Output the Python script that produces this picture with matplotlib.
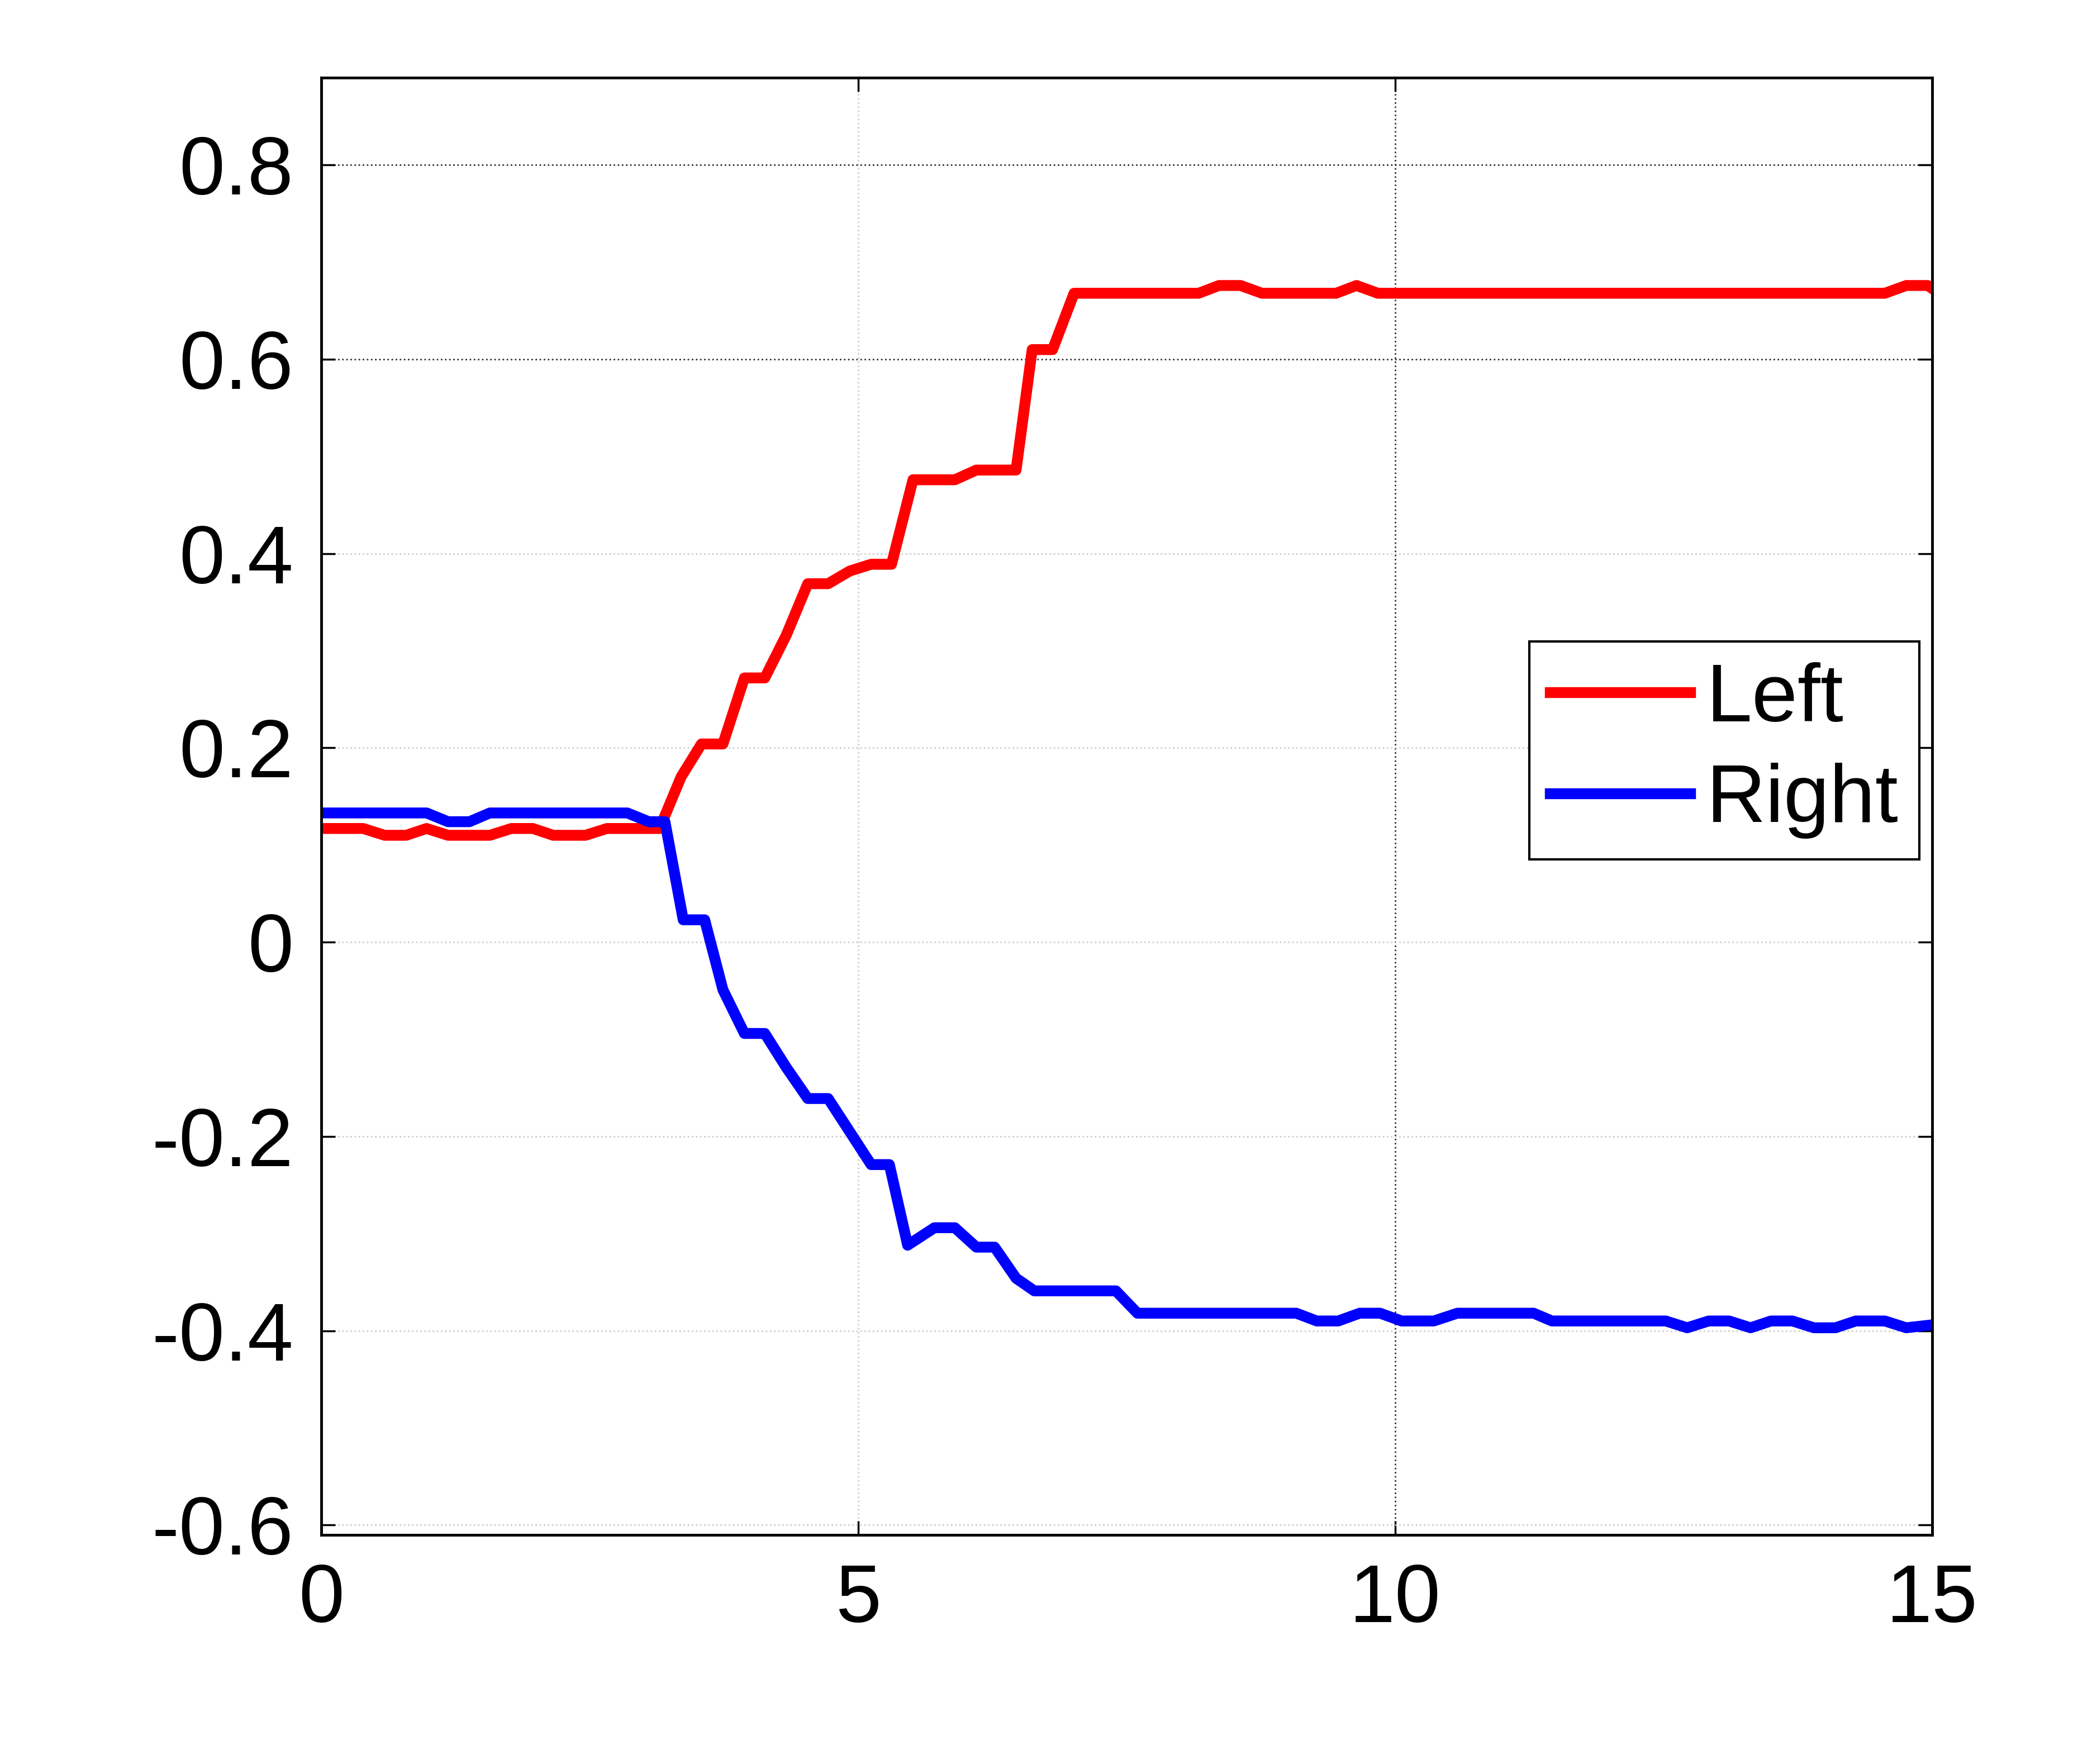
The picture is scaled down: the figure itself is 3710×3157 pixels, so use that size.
import matplotlib
matplotlib.use('Agg')
import matplotlib.pyplot as plt

plt.rcParams['font.family'] = ['Liberation Sans', 'DejaVu Sans']

left_x = [0, 0.39, 0.59, 0.79, 0.98, 1.18, 1.57, 1.77, 1.97, 2.16, 2.46, 2.66, 3.15,
          3.35, 3.54, 3.74, 3.94, 4.13, 4.33, 4.53, 4.72, 4.92, 5.12, 5.31, 5.51,
          5.9, 6.1, 6.47, 6.62, 6.81, 7.01, 8.17, 8.36, 8.56, 8.76, 9.45, 9.64,
          9.84, 14.56, 14.76, 14.96, 15]
left_y = [0.117, 0.117, 0.11, 0.11, 0.117, 0.11, 0.11, 0.117, 0.117, 0.11, 0.11, 0.117,
          0.117, 0.17, 0.204, 0.204, 0.272, 0.272, 0.316, 0.369, 0.369, 0.382, 0.389,
          0.389, 0.476, 0.476, 0.486, 0.486, 0.61, 0.61, 0.668, 0.668, 0.676, 0.676,
          0.668, 0.668, 0.676, 0.668, 0.668, 0.676, 0.676, 0.673]

right_x = [0, 0.98, 1.18, 1.38, 1.57, 2.85, 3.05, 3.2, 3.37, 3.57, 3.74, 3.94, 4.13,
           4.33, 4.53, 4.72, 4.92, 5.12, 5.29, 5.46, 5.71, 5.9, 6.1, 6.27, 6.47, 6.64,
           7.4, 7.6, 9.08, 9.27, 9.47, 9.67, 9.86, 10.06, 10.36, 10.58, 11.29, 11.46,
           12.52, 12.72, 12.92, 13.11, 13.31, 13.5, 13.7, 13.9, 14.1, 14.29, 14.56,
           14.76, 15]
right_y = [0.133, 0.133, 0.124, 0.124, 0.133, 0.133, 0.124, 0.124, 0.023, 0.023, -0.049,
           -0.094, -0.094, -0.129, -0.161, -0.161, -0.195, -0.229, -0.229, -0.312,
           -0.294, -0.294, -0.314, -0.314, -0.346, -0.359, -0.359, -0.382, -0.382,
           -0.39, -0.39, -0.382, -0.382, -0.39, -0.39, -0.382, -0.382, -0.39, -0.39,
           -0.397, -0.39, -0.39, -0.397, -0.39, -0.39, -0.397, -0.397, -0.39, -0.39,
           -0.397, -0.394]

xticks = [0, 5, 10, 15]
yticks = [-0.6, -0.4, -0.2, 0, 0.2, 0.4, 0.6, 0.8]
ytick_labels = ['-0.6', '-0.4', '-0.2', '0', '0.2', '0.4', '0.6', '0.8']

fig = plt.figure(figsize=(37.1, 31.57), dpi=100)
ax = fig.add_axes([0.155, 0.13, 0.777, 0.826])

ax.plot(left_x, left_y, color='#ff0000', linewidth=14, label='Left')
ax.plot(right_x, right_y, color='#0000ff', linewidth=14, label='Right')

ax.set_xlim(0, 15)
ax.set_ylim(-0.61, 0.89)
ax.set_xticks(xticks)
ax.set_yticks(yticks)
ax.set_yticklabels(ytick_labels)
ax.tick_params(direction='in', length=18, width=2.5, labelsize=106, pad=36,
               top=True, right=True)
for s in ax.spines.values():
    s.set_linewidth(3.5)

ax.grid(True, linestyle=':', color='#cccccc', linewidth=2)
for i, g in enumerate(ax.xaxis.get_gridlines()):
    if xticks[i] == 10:
        g.set_color('#333333')
for i, g in enumerate(ax.yaxis.get_gridlines()):
    if yticks[i] in (0.6, 0.8):
        g.set_color('#333333')

leg = ax.legend(loc='upper right', bbox_to_anchor=(0.992, 0.613), fontsize=106,
                handlelength=1.7, fancybox=False, edgecolor='black', framealpha=1,
                borderpad=0.25, handletextpad=0.2, labelspacing=0.3,
                borderaxespad=0)
leg.get_frame().set_linewidth(3)

fig.savefig('out.png', dpi=100)
